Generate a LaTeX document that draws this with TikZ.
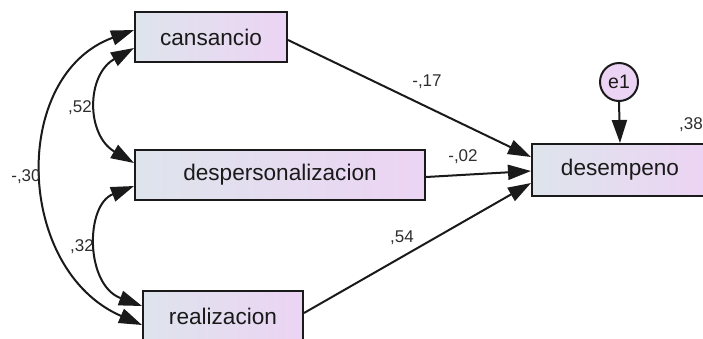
\documentclass[tikz,border=0pt]{standalone}
\usepackage{fontspec}
\setmainfont{Liberation Sans}
\usetikzlibrary{arrows.meta}
\definecolor{boxleft}{HTML}{DEE4EC}
\definecolor{boxright}{HTML}{ECD4F4}
\definecolor{edge}{HTML}{1A1A1A}
\definecolor{lab}{HTML}{2E2E2E}
\tikzset{
  varbox/.style={draw=edge, line width=2pt, left color=boxleft, right color=boxright,
    inner sep=0pt, minimum height=50pt, text=edge, font=\fontsize{22.6}{24}\selectfont},
  errcirc/.style={circle, draw=edge, line width=2pt, fill=boxright, inner sep=0pt,
    minimum size=38pt, text=edge, font=\fontsize{19.5}{21}\selectfont},
  conn/.style={draw=edge, line width=2pt, -{Triangle[length=23pt,width=15pt]}},
  cov/.style={draw=edge, line width=2pt, {Triangle[length=23pt,width=15pt]}-{Triangle[length=23pt,width=15pt]}},
  lbl/.style={text=lab, inner sep=0pt, font=\fontsize{17}{18}\selectfont}
}
\begin{document}
\begin{tikzpicture}[x=1pt,y=-1pt]
\useasboundingbox (0,0) rectangle (703,338);
\node[varbox, minimum width=152pt] (can) at (211,37) {cansancio};
\node[varbox, minimum width=290pt] (des) at (280,175) {despersonalizacion};
\node[varbox, minimum width=160pt] (rea) at (223,316) {realizacion};
\node[varbox, minimum width=176pt, minimum height=52pt] (dem) at (620,170) {desempeno};
\node[errcirc] (e1) at (619,82) {e1};
\draw[conn] (e1.south) -- (dem.north);
\draw[conn] ([yshift=-3pt]can.east) -- ([yshift=13pt]dem.west);
\draw[conn] ([yshift=-2pt]des.east) -- ([yshift=-1pt]dem.west);
\draw[conn] ([yshift=3pt]rea.east) -- ([yshift=-13pt]dem.west);
\draw[cov] ([yshift=-11pt]can.west) .. controls (86,75) and (86,135) .. ([yshift=12pt]des.west);
\draw[cov] ([yshift=-11pt]des.west) .. controls (85,205) and (85,285) .. ([yshift=10pt]rea.west);
\draw[cov] ([yshift=7pt]can.west) .. controls (10,75) and (15,270) .. ([yshift=-9pt]rea.west);
\node[lbl] (l17) at (427,82) {-,17};
\node[lbl] (l02) at (463,157) {-,02};
\node[lbl] (l54) at (402,238) {,54};
\node[lbl] (l52) at (80,108) {,52};
\node[lbl] (l32) at (82,247) {,32};
\node[lbl] (l30) at (26,177) {-,30};
\node[lbl, anchor=west] (l38) at (679,125) {,38};
\end{tikzpicture}
\end{document}
